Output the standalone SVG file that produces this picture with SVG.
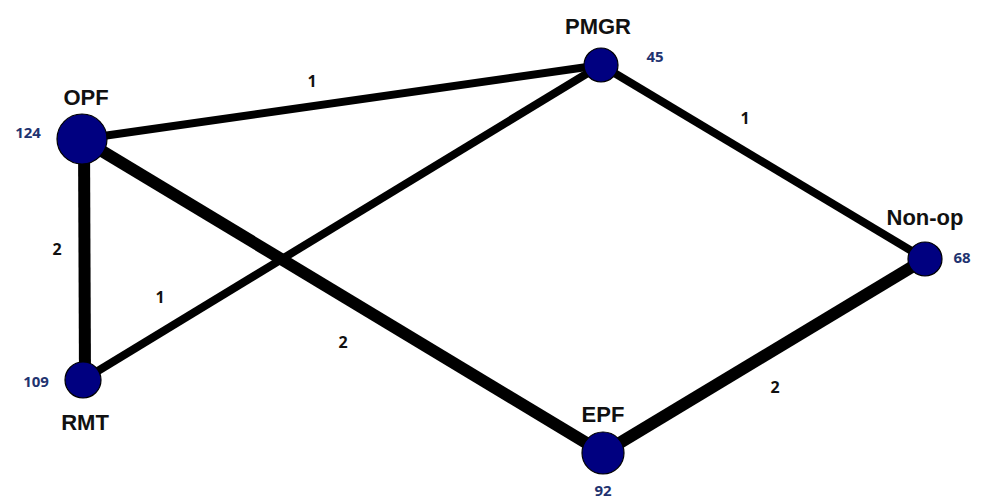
<svg xmlns="http://www.w3.org/2000/svg" width="981" height="502" viewBox="0 0 981 502">
<style>
.e1{stroke:#000;stroke-width:8;stroke-linecap:butt;fill:none}
.e2{stroke:#000;stroke-width:12;stroke-linecap:butt;fill:none}
.n{fill:#000080;stroke:#000;stroke-width:1.2}
.name{font-family:"Liberation Sans",Arial,sans-serif;font-size:22px;font-weight:bold;fill:#111;text-anchor:middle}
.val{font-family:"Open Sans","Liberation Sans",sans-serif;font-size:15px;font-weight:bold;fill:#1f3370;text-anchor:middle}
.lbl{font-family:"Open Sans","Liberation Sans",sans-serif;font-size:16px;font-weight:bold;fill:#111;text-anchor:middle}
</style>
<rect width="981" height="502" fill="#fff"/>
<g id="edges">
<line class="e1" x1="82" y1="139" x2="601" y2="65"/>
<line class="e1" x1="601" y1="65" x2="925" y2="259"/>
<line class="e2" x1="84" y1="139" x2="85" y2="380"/>
<line class="e1" x1="83" y1="380" x2="601" y2="65"/>
<line class="e2" x1="82" y1="139" x2="603" y2="453"/>
<line class="e2" x1="603" y1="453" x2="925" y2="259"/>
<text class="lbl" x="312" y="87">1</text>
<text class="lbl" x="745" y="124">1</text>
<text class="lbl" x="57" y="255">2</text>
<text class="lbl" x="160" y="303">1</text>
<text class="lbl" x="343" y="348">2</text>
<text class="lbl" x="775" y="393">2</text>
</g>
<g id="OPF"><circle class="n" cx="82" cy="139" r="25"/><text class="name" x="86" y="105">OPF</text><text class="val" x="28" y="138">124</text></g>
<g id="PMGR"><circle class="n" cx="601" cy="65" r="17"/><text class="name" x="598" y="34">PMGR</text><text class="val" x="655" y="62">45</text></g>
<g id="Non-op"><circle class="n" cx="925" cy="259" r="17"/><text class="name" x="925" y="225">Non-op</text><text class="val" x="962" y="263">68</text></g>
<g id="RMT"><circle class="n" cx="83" cy="380" r="18"/><text class="name" x="85" y="430">RMT</text><text class="val" x="36" y="387">109</text></g>
<g id="EPF"><circle class="n" cx="603" cy="453" r="21"/><text class="name" x="603" y="422">EPF</text><text class="val" x="603" y="496">92</text></g>
</svg>
